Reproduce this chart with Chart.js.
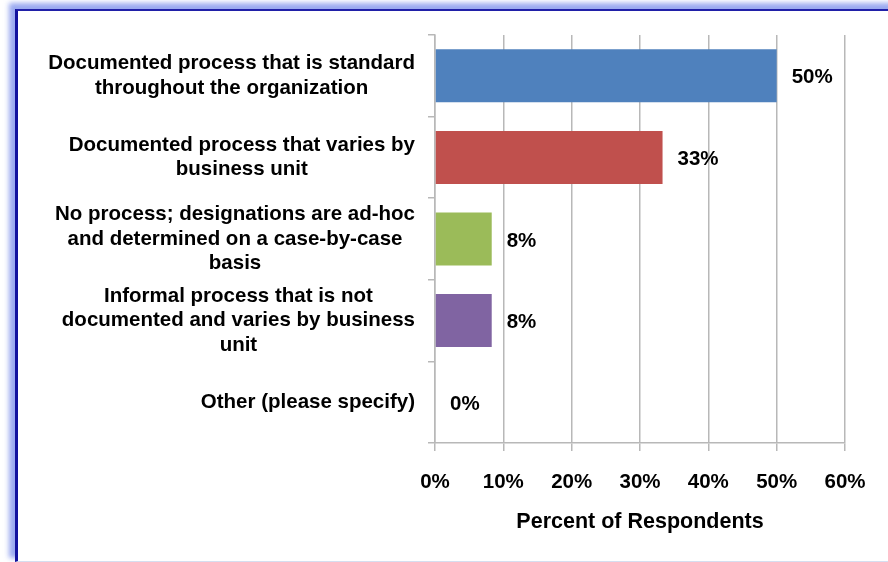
<!DOCTYPE html>
<html>
<head>
<meta charset="utf-8">
<script src="https://cdn.jsdelivr.net/npm/chart.js@4/dist/chart.umd.min.js"></script>
<style>
  html, body { margin: 0; padding: 0; background: #fff; }
  #wrap { position: relative; width: 888px; height: 562px; overflow: hidden; }
  .frame {
    position: absolute; left: 15px; top: 9px; width: 900px; height: 550px;
    border-left: 3px solid #12129e; border-top: 2px solid #2020a8;
    border-bottom: 1px solid #d6def0;
    box-shadow: -5px -5px 5px 1px rgba(120,140,235,0.75);
  }
  canvas { position: absolute; left: 0; top: 0; }
</style>
</head>
<body>
<div id="wrap">
  <div class="frame"></div>
  <canvas id="chart" width="888" height="562"></canvas>
</div>
<script>
/* ---- Data ---- */
const categoryLines = [
  ["Documented process that is standard", "throughout the organization"],
  ["Documented process that varies by", "business unit"],
  ["No process; designations are ad-hoc", "and determined on a case-by-case", "basis"],
  ["Informal process that is not", "documented and varies by business", "unit"],
  ["Other (please specify)"],
];
const values = [50, 33.3, 8.3, 8.3, 0];
const valueLabels = ["50%", "33%", "8%", "8%", "0%"];
const barColors = ["#4F81BD", "#C0504D", "#9BBB59", "#8064A2", "#4BACC6"];
const xTicks = [0, 10, 20, 30, 40, 50, 60];
const axisTitle = "Percent of Respondents";

const FONT = '"Liberation Sans", Arial, sans-serif';
const GRID = "#b8b8b8";

/* ---- Plugins: wrapped category labels + value labels ---- */
const categoryLabelPlugin = {
  id: "categoryLabels",
  afterDraw(chart) {
    const ctx = chart.ctx;
    const yScale = chart.scales.y;
    const rightEdge = chart.chartArea.left - 20;
    const lh = 24.5;
    ctx.save();
    ctx.font = `bold 20.5px ${FONT}`;
    ctx.fillStyle = "#000";
    ctx.textAlign = "center";
    ctx.textBaseline = "middle";
    categoryLines.forEach((lines, i) => {
      const maxW = Math.max(...lines.map((l) => ctx.measureText(l).width));
      const cx = rightEdge - maxW / 2;
      const cy = yScale.getPixelForValue(i);
      const y0 = cy - (lines.length * lh) / 2 + lh / 2;
      lines.forEach((l, k) => ctx.fillText(l, cx, y0 + k * lh));
    });
    ctx.restore();
  },
};

const valueLabelPlugin = {
  id: "valueLabels",
  afterDatasetsDraw(chart) {
    const ctx = chart.ctx;
    const meta = chart.getDatasetMeta(0);
    ctx.save();
    ctx.font = `bold 20.5px ${FONT}`;
    ctx.fillStyle = "#000";
    ctx.textAlign = "left";
    ctx.textBaseline = "middle";
    meta.data.forEach((bar, i) => {
      ctx.fillText(valueLabels[i], bar.x + 15, bar.y + 2);
    });
    ctx.restore();
  },
};

/* ---- Chart ---- */
new Chart(document.getElementById("chart"), {
  type: "bar",
  data: {
    labels: categoryLines.map((l) => l.join(" ")),
    datasets: [{
      data: values,
      backgroundColor: barColors,
      borderWidth: 0,
      barPercentage: 0.65,
      categoryPercentage: 1,
    }],
  },
  options: {
    indexAxis: "y",
    responsive: false,
    animation: false,
    layout: { padding: { left: 0, right: 43, top: 35, bottom: 27.4 } },
    plugins: { legend: { display: false }, tooltip: { enabled: false } },
    scales: {
      x: {
        min: 0,
        max: 60,
        afterBuildTicks: (s) => { s.ticks = xTicks.map((v) => ({ value: v })); },
        afterFit: (s) => { s.height = 91.6; },
        grid: { color: GRID, lineWidth: 1.5, tickLength: 8 },
        border: { color: GRID, width: 1.5 },
        ticks: {
          padding: 19,
          color: "#000",
          font: { family: FONT, size: 20.5, weight: "bold" },
          callback: (v) => v + "%",
        },
        title: {
          display: true,
          text: axisTitle,
          color: "#000",
          padding: 0,
          font: { family: FONT, size: 21.5, weight: "bold" },
        },
      },
      y: {
        afterFit: (s) => { s.width = 435; },
        grid: { drawOnChartArea: false, color: GRID, lineWidth: 1.5, tickLength: 7 },
        border: { color: GRID, width: 1.5 },
        ticks: { display: false },
      },
    },
  },
  plugins: [categoryLabelPlugin, valueLabelPlugin],
});
</script>
</body>
</html>
